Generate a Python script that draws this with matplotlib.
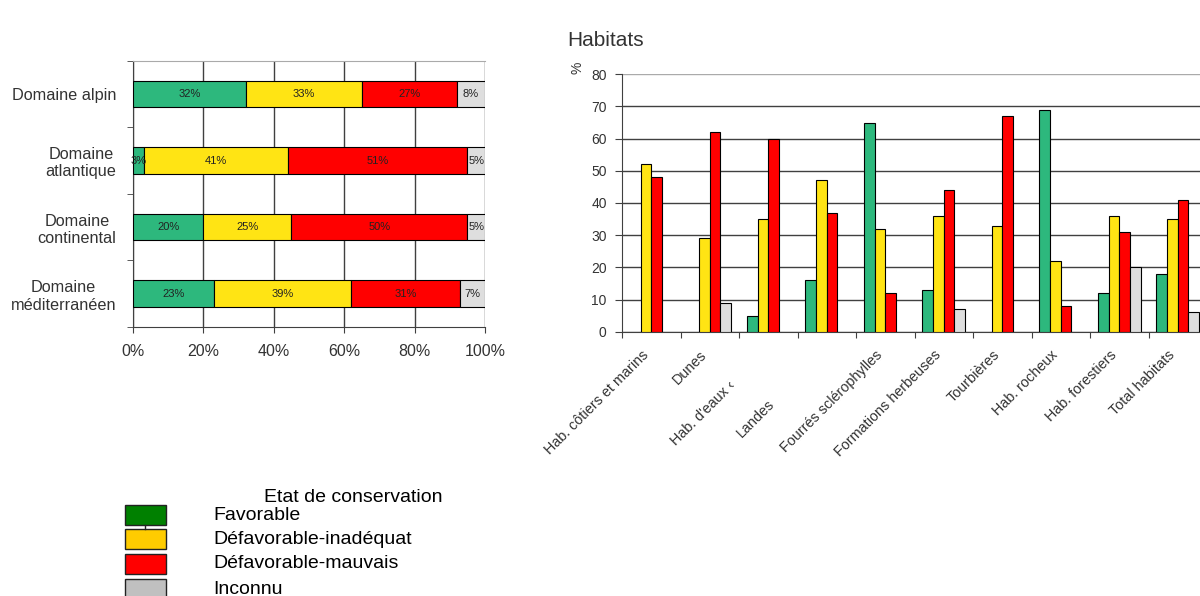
import matplotlib
matplotlib.use('Agg')
import matplotlib.pyplot as plt
from matplotlib.patches import Rectangle
from matplotlib.lines import Line2D
import numpy as np

plt.rcParams['font.family'] = ['Liberation Sans', 'DejaVu Sans']

# Etat de conservation par domaine biogeographique (%)
domaines = ['Domaine alpin', 'Domaine\natlantique', 'Domaine\ncontinental',
            'Domaine\nméditerranéen']
dom_favorable = [32, 3, 20, 23]
dom_inadequat = [33, 41, 25, 39]
dom_mauvais = [27, 51, 50, 31]
dom_inconnu = [8, 5, 5, 7]

# Etat de conservation par type d'habitat (%)
habitats = ['Hab. côtiers et marins', 'Dunes', "Hab. d'eaux ‹", 'Landes',
            'Fourrés sclérophylles', 'Formations herbeuses', 'Tourbières',
            'Hab. rocheux', 'Hab. forestiers', 'Total habitats']
hab_favorable = [0, 0, 5, 16, 65, 13, 0, 69, 12, 18]
hab_inadequat = [52, 29, 35, 47, 32, 36, 33, 22, 36, 35]
hab_mauvais = [48, 62, 60, 37, 12, 44, 67, 8, 31, 41]
hab_inconnu = [0, 9, 0, 0, 0, 7, 0, 0, 20, 6]

pct_ticks = [0, 20, 40, 60, 80, 100]
hab_yticks = [0, 10, 20, 30, 40, 50, 60, 70, 80]

legend_title = 'Etat de conservation'
legend_labels = ['Favorable', 'Défavorable-inadéquat', 'Défavorable-mauvais', 'Inconnu']

bar_colors = ['#2db87d', '#ffe414', '#ff0000', '#dedede']
legend_colors = ['#008000', '#ffcc00', '#ff0000', '#c0c0c0']
grid_col = '#404040'
txt_col = '#333333'

fig = plt.figure(figsize=(12, 5.96), dpi=100)

# ---- stacked bars, domains ----
ax1 = fig.add_axes([133 / 1200, 1 - 327 / 596, 352 / 1200, 266.3 / 596])
dom_series = [dom_favorable, dom_inadequat, dom_mauvais, dom_inconnu]
ypos = np.arange(len(domaines))
left = np.zeros(len(domaines))
for vals, col in zip(dom_series, bar_colors):
    vals = np.array(vals, dtype=float)
    ax1.barh(ypos, vals, left=left, height=0.4, color=col, edgecolor='black',
             linewidth=0.8, zorder=3)
    for y, l, v in zip(ypos, left, vals):
        ax1.text(l + v / 2, y, f'{int(v)}%', ha='center', va='center',
                 fontsize=8, color='#222222', zorder=4)
    left += vals

ax1.set_xlim(0, 100)
ax1.set_ylim(len(domaines) - 0.5, -0.5)
ax1.set_xticks(pct_ticks)
ax1.set_xticklabels([f'{t}%' for t in pct_ticks], fontsize=11.5, color=txt_col)
ax1.set_yticks(ypos)
ax1.set_yticklabels(domaines, fontsize=11.7, color=txt_col, multialignment='center')
ax1.set_yticks(np.arange(len(domaines) + 1) - 0.5, minor=True)
ax1.tick_params(axis='y', which='major', length=0, pad=12)
ax1.tick_params(axis='y', which='minor', length=4, direction='out', color=grid_col)
ax1.tick_params(axis='x', length=4, direction='out', color=grid_col, pad=8)
ax1.xaxis.grid(True, color=grid_col, linewidth=1, zorder=0)
ax1.set_axisbelow(True)
for s in ['left', 'bottom']:
    ax1.spines[s].set_color(grid_col)
ax1.spines['top'].set_color('#aaaaaa')
ax1.spines['right'].set_visible(False)

# ---- grouped bars, habitats ----
ax2 = fig.add_axes([622 / 1200, 1 - 331.7 / 596, 585 / 1200, 257.4 / 596])
hab_series = [hab_favorable, hab_inadequat, hab_mauvais, hab_inconnu]
x = np.arange(len(habitats))
w = 0.73 / 4
for k, (vals, col) in enumerate(zip(hab_series, bar_colors)):
    vals = np.array(vals, dtype=float)
    keep = vals > 0
    ax2.bar(x[keep] + (k - 1.5) * w, vals[keep], width=w, color=col,
            edgecolor='black', linewidth=0.8, zorder=3)

ax2.set_xlim(-0.5, len(habitats) - 0.5)
ax2.set_ylim(0, 80)
ax2.set_yticks(hab_yticks)
ax2.set_yticklabels([str(t) for t in hab_yticks], fontsize=10, color=txt_col)
ax2.tick_params(axis='y', length=5, direction='out', color=grid_col, pad=6)
ax2.set_xticks(np.arange(len(habitats) + 1) - 0.5)
ax2.set_xticklabels([])
ax2.tick_params(axis='x', length=4, direction='out', color=grid_col)
ax2.yaxis.grid(True, color=grid_col, linewidth=1, zorder=0)
ax2.set_axisbelow(True)
ax2.get_ygridlines()[-1].set_color('#aaaaaa')
for s in ['left', 'bottom']:
    ax2.spines[s].set_color(grid_col)
ax2.spines['top'].set_visible(False)
ax2.spines['right'].set_visible(False)

# rotated category labels; two of them sit further down the diagonal
label_shift = [0, 0, 43, 70, 0, 0, 0, 0, 0, 0]
for i, (name, sh) in enumerate(zip(habitats, label_shift)):
    d = sh / np.sqrt(2)
    ax2.annotate(name, xy=(i, 0), xycoords='data',
                 xytext=(-5 - d, -21 - d), textcoords='offset pixels',
                 rotation=45, rotation_mode='anchor', ha='right', va='center',
                 fontsize=10.4, color=txt_col, annotation_clip=False)

fig.text(567 / 1200, 1 - 40 / 596, 'Habitats', fontsize=15, color=txt_col,
         ha='left', va='center')
fig.text(578 / 1200, 1 - 68 / 596, '%', fontsize=10, color=txt_col,
         rotation=90, ha='center', va='center')

# ---- legend ----
fig.text(353 / 1200, 1 - 497 / 596, legend_title, fontsize=14, color='black',
         ha='center', va='center')
box_tops = [505, 529, 554, 579]
for top, col, lab in zip(box_tops, legend_colors, legend_labels):
    fig.patches.append(Rectangle((125 / 1200, 1 - (top + 20) / 596), 41 / 1200, 20 / 596,
                                 transform=fig.transFigure, facecolor=col,
                                 edgecolor='#222222', linewidth=1))
    fig.text(213 / 1200, 1 - (top + 10) / 596, lab, fontsize=14, color='black',
             ha='left', va='center')
fig.lines.append(Line2D([145 / 1200, 145 / 1200], [1 - 525 / 596, 1 - 529 / 596],
                        transform=fig.transFigure, color='#222222', linewidth=1))

fig.savefig('out.png', dpi=100)
